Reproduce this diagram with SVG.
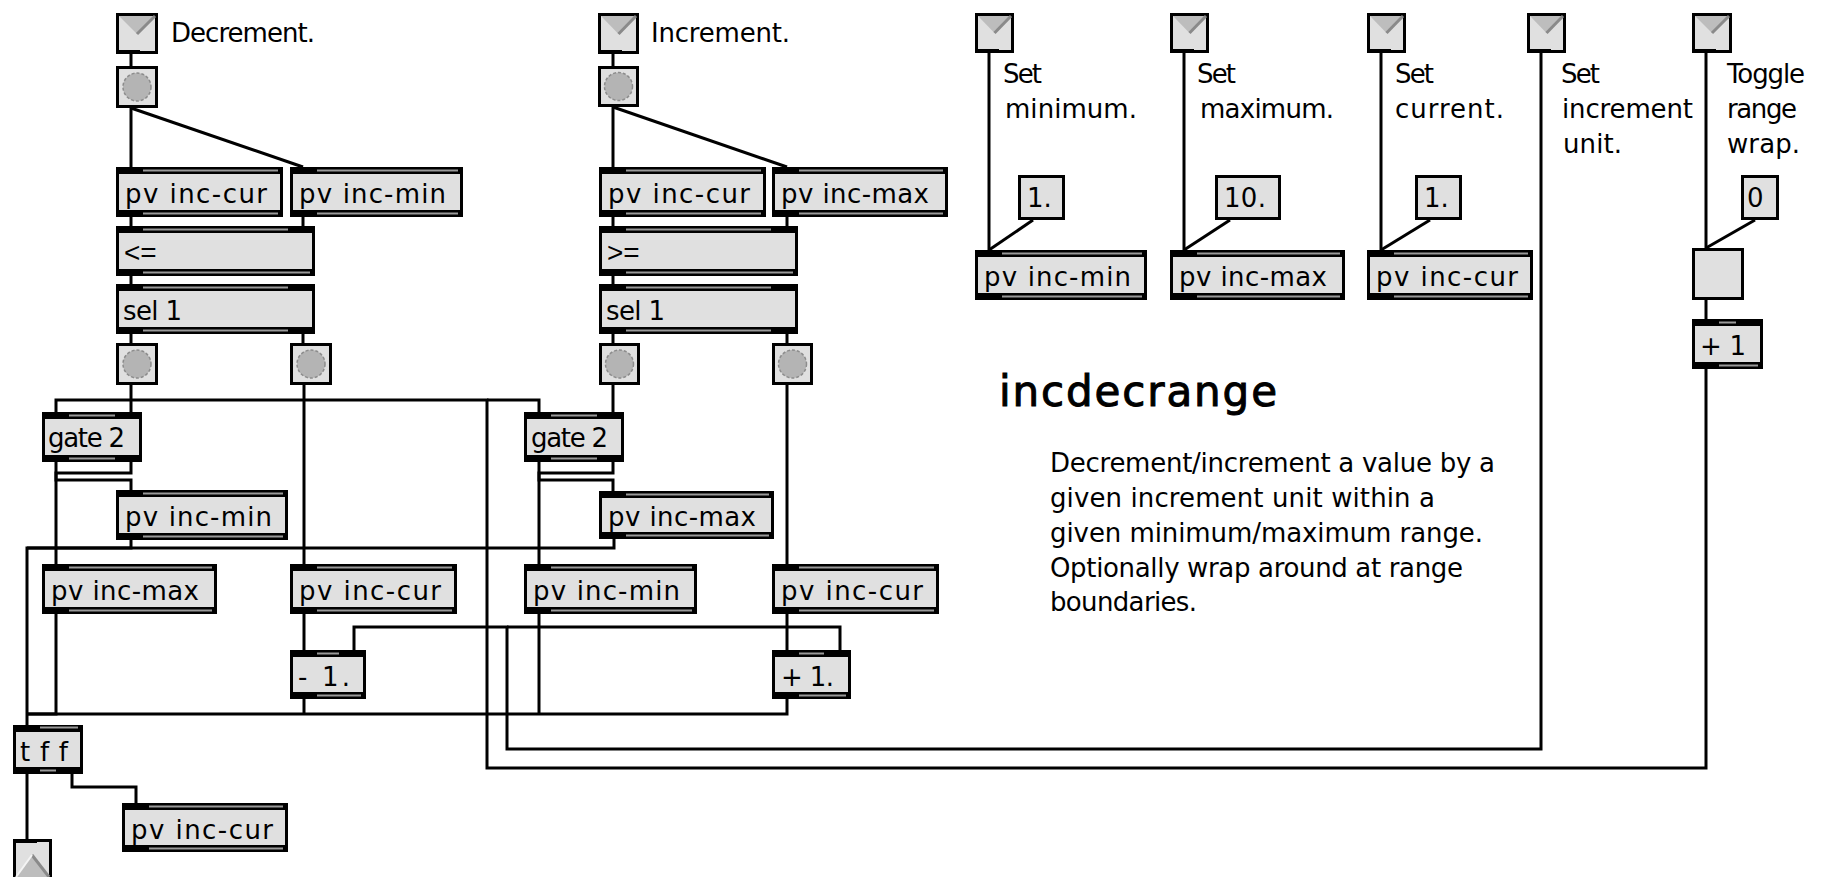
<svg xmlns="http://www.w3.org/2000/svg" width="1824" height="877" viewBox="0 0 1824 877">
<style>
.fill{fill:#e0e0e0;stroke:#000;stroke-width:3}
.bar{fill:#000}
.strip{fill:#9a9a9a}
.t{font-family:"DejaVu Sans",Verdana,sans-serif;font-size:26px;fill:#000}
.sym{font-family:"Liberation Sans",Arial,sans-serif;font-size:28px;fill:#000}
.head{font-family:"DejaVu Sans",Verdana,sans-serif;font-size:42px;fill:#000;stroke:#000;stroke-width:1}
.tri{fill:#bdbdbd}
.edge{stroke:#8a8a8a;stroke-width:3;fill:none}
.bang{fill:#b4b4b4;stroke:#8c8c8c;stroke-width:1.5;stroke-dasharray:3 2}
.cords path{fill:none;stroke:#000;stroke-width:3}
</style>
<rect width="1824" height="877" fill="#fff"/>

<g class="cords" id="connectors">
<path d="M131 54V66"/>
<path d="M131 108V167"/>
<path d="M131 108L303 167"/>
<path d="M131 217V226"/>
<path d="M303 217V226"/>
<path d="M131 276V284"/>
<path d="M131 334V343"/>
<path d="M303 334V343"/>
<path d="M131 385V412"/>
<path d="M304 385V564"/>
<path d="M56 462V480H131V490"/>
<path d="M131 462V473H56V564"/>
<path d="M131 540V548H27V725"/>
<path d="M614 539V548H27"/>
<path d="M56 614V714H27"/>
<path d="M304 614V650"/>
<path d="M304 699V714"/>
<path d="M539 614V714"/>
<path d="M787 699V714H27"/>
<path d="M27 774V839"/>
<path d="M72 774V787H136V803"/>
<path d="M613 54V66"/>
<path d="M613 107V167"/>
<path d="M613 107L787 167"/>
<path d="M613 217V226"/>
<path d="M787 217V226"/>
<path d="M613 276V284"/>
<path d="M613 334V343"/>
<path d="M787 334V343"/>
<path d="M613 385V412"/>
<path d="M787 385V564"/>
<path d="M539 462V480H613V491"/>
<path d="M613 462V473H539V564"/>
<path d="M787 614V650"/>
<path d="M1541 53V749H507V627H354V650"/>
<path d="M507 627H840V650"/>
<path d="M1706 53V248"/>
<path d="M1755 220L1706 248"/>
<path d="M1706 300V319"/>
<path d="M1706 369V768H487V400H56V412"/>
<path d="M487 400H539V412"/>
<path d="M989 53V250"/>
<path d="M1033 220L989 250"/>
<path d="M1184 53V250"/>
<path d="M1230 220L1184 250"/>
<path d="M1381 53V250"/>
<path d="M1430 220L1381 250"/>
</g>

<!-- inlets -->
<g id="inletDec"><rect class="fill" x="117.5" y="14.5" width="39" height="38"/><polygon class="tri" points="119,16 155,16 137,34"/><path class="edge" d="M137 34L155 16"/><rect class="bar" x="116" y="50" width="24" height="4"/></g>
<g id="inletInc"><rect class="fill" x="599.5" y="14.5" width="38" height="38"/><polygon class="tri" points="601,16 636,16 618.5,34"/><path class="edge" d="M618.5 34L636 16"/><rect class="bar" x="598" y="50" width="24" height="4"/></g>
<g id="inletMin"><rect class="fill" x="976.5" y="14.5" width="36" height="37"/><polygon class="tri" points="978,16 1011,16 994.5,33"/><path class="edge" d="M994.5 33L1011 16"/><rect class="bar" x="975" y="49" width="24" height="4"/></g>
<g id="inletMax"><rect class="fill" x="1171.5" y="14.5" width="36" height="37"/><polygon class="tri" points="1173,16 1206,16 1189.5,33"/><path class="edge" d="M1189.5 33L1206 16"/><rect class="bar" x="1170" y="49" width="24" height="4"/></g>
<g id="inletCur"><rect class="fill" x="1368.5" y="14.5" width="36" height="37"/><polygon class="tri" points="1370,16 1403,16 1386.5,33"/><path class="edge" d="M1386.5 33L1403 16"/><rect class="bar" x="1367" y="49" width="24" height="4"/></g>
<g id="inletUnit"><rect class="fill" x="1528.5" y="14.5" width="36" height="37"/><polygon class="tri" points="1530,16 1563,16 1546.5,33"/><path class="edge" d="M1546.5 33L1563 16"/><rect class="bar" x="1527" y="49" width="24" height="4"/></g>
<g id="inletWrap"><rect class="fill" x="1693.5" y="14.5" width="37" height="37"/><polygon class="tri" points="1695,16 1729,16 1712,33"/><path class="edge" d="M1712 33L1729 16"/><rect class="bar" x="1692" y="49" width="24" height="4"/></g>

<!-- buttons -->
<g id="btnDec"><rect class="fill" x="117.5" y="67.5" width="39" height="39"/><circle class="bang" cx="137" cy="87" r="14"/></g>
<g id="btnInc"><rect class="fill" x="599.5" y="67.5" width="38" height="38"/><circle class="bang" cx="618.5" cy="86.5" r="14"/></g>
<g id="btnA1"><rect class="fill" x="117.5" y="344.5" width="39" height="39"/><circle class="bang" cx="137" cy="364" r="14"/></g>
<g id="btnA2"><rect class="fill" x="291.5" y="344.5" width="39" height="39"/><circle class="bang" cx="311" cy="364" r="14"/></g>
<g id="btnB1"><rect class="fill" x="600.5" y="344.5" width="38" height="39"/><circle class="bang" cx="619.5" cy="364" r="14"/></g>
<g id="btnB2"><rect class="fill" x="773.5" y="344.5" width="38" height="39"/><circle class="bang" cx="792.5" cy="364" r="14"/></g>

<!-- object boxes -->
<g id="pvcur1"><rect class="fill" x="117.5" y="168.5" width="164" height="47"/><rect class="bar" x="116" y="167" width="167" height="7"/><rect class="bar" x="116" y="210" width="167" height="7"/><rect class="strip" x="143" y="169.5" width="135" height="2"/><rect class="strip" x="143" y="212.5" width="135" height="2"/><text class="t" x="125" y="203" textLength="142">pv inc-cur</text></g>
<g id="pvmin1"><rect class="fill" x="291.5" y="168.5" width="170" height="47"/><rect class="bar" x="290" y="167" width="173" height="7"/><rect class="bar" x="290" y="210" width="173" height="7"/><rect class="strip" x="317" y="169.5" width="141" height="2"/><rect class="strip" x="317" y="212.5" width="141" height="2"/><text class="t" x="299" y="203" textLength="147">pv inc-min</text></g>
<g id="le"><rect class="fill" x="117.5" y="227.5" width="196" height="47"/><rect class="bar" x="116" y="226" width="199" height="7"/><rect class="bar" x="116" y="269" width="199" height="7"/><rect class="strip" x="143" y="228.5" width="145" height="2"/><rect class="strip" x="143" y="271.5" width="167" height="2"/><text class="sym" x="124" y="262">&lt;=</text></g>
<g id="sel1a"><rect class="fill" x="117.5" y="285.5" width="196" height="47"/><rect class="bar" x="116" y="284" width="199" height="7"/><rect class="bar" x="116" y="327" width="199" height="7"/><rect class="strip" x="143" y="286.5" width="145" height="2"/><rect class="strip" x="143" y="329.5" width="145" height="2"/><text class="t" x="123" y="320" textLength="59">sel 1</text></g>

<g id="pvcur2"><rect class="fill" x="600.5" y="168.5" width="164" height="47"/><rect class="bar" x="599" y="167" width="167" height="7"/><rect class="bar" x="599" y="210" width="167" height="7"/><rect class="strip" x="626" y="169.5" width="135" height="2"/><rect class="strip" x="626" y="212.5" width="135" height="2"/><text class="t" x="608" y="203" textLength="142">pv inc-cur</text></g>
<g id="pvmax2"><rect class="fill" x="773.5" y="168.5" width="173" height="47"/><rect class="bar" x="772" y="167" width="176" height="7"/><rect class="bar" x="772" y="210" width="176" height="7"/><rect class="strip" x="799" y="169.5" width="144" height="2"/><rect class="strip" x="799" y="212.5" width="144" height="2"/><text class="t" x="781" y="203" textLength="148">pv inc-max</text></g>
<g id="ge"><rect class="fill" x="600.5" y="227.5" width="196" height="47"/><rect class="bar" x="599" y="226" width="199" height="7"/><rect class="bar" x="599" y="269" width="199" height="7"/><rect class="strip" x="626" y="228.5" width="145" height="2"/><rect class="strip" x="626" y="271.5" width="167" height="2"/><text class="sym" x="607" y="262">&gt;=</text></g>
<g id="sel1b"><rect class="fill" x="600.5" y="285.5" width="196" height="47"/><rect class="bar" x="599" y="284" width="199" height="7"/><rect class="bar" x="599" y="327" width="199" height="7"/><rect class="strip" x="626" y="286.5" width="145" height="2"/><rect class="strip" x="626" y="329.5" width="145" height="2"/><text class="t" x="606" y="320" textLength="59">sel 1</text></g>

<g id="pvminR"><rect class="fill" x="976.5" y="251.5" width="169" height="47"/><rect class="bar" x="975" y="250" width="172" height="7"/><rect class="bar" x="975" y="293" width="172" height="7"/><rect class="strip" x="1002" y="252.5" width="140" height="2"/><rect class="strip" x="1002" y="295.5" width="140" height="2"/><text class="t" x="984" y="286" textLength="147">pv inc-min</text></g>
<g id="pvmaxR"><rect class="fill" x="1171.5" y="251.5" width="172" height="47"/><rect class="bar" x="1170" y="250" width="175" height="7"/><rect class="bar" x="1170" y="293" width="175" height="7"/><rect class="strip" x="1197" y="252.5" width="143" height="2"/><rect class="strip" x="1197" y="295.5" width="143" height="2"/><text class="t" x="1179" y="286" textLength="148">pv inc-max</text></g>
<g id="pvcurR"><rect class="fill" x="1368.5" y="251.5" width="163" height="47"/><rect class="bar" x="1367" y="250" width="166" height="7"/><rect class="bar" x="1367" y="293" width="166" height="7"/><rect class="strip" x="1394" y="252.5" width="134" height="2"/><rect class="strip" x="1394" y="295.5" width="134" height="2"/><text class="t" x="1376" y="286" textLength="142">pv inc-cur</text></g>
<g id="plus1"><rect class="fill" x="1693.5" y="320.5" width="68" height="47"/><rect class="bar" x="1692" y="319" width="71" height="7"/><rect class="bar" x="1692" y="362" width="71" height="7"/><rect class="strip" x="1719" y="321.5" width="17" height="2"/><rect class="strip" x="1719" y="364.5" width="39" height="2"/><text class="t" x="1700" y="355" textLength="46">+ 1</text></g>

<g id="gate2a"><rect class="fill" x="43.5" y="413.5" width="97" height="47"/><rect class="bar" x="42" y="412" width="100" height="7"/><rect class="bar" x="42" y="455" width="100" height="7"/><rect class="strip" x="69" y="414.5" width="46" height="2"/><rect class="strip" x="69" y="457.5" width="46" height="2"/><text class="t" x="48" y="447" textLength="77">gate 2</text></g>
<g id="pvminL"><rect class="fill" x="117.5" y="491.5" width="169" height="47"/><rect class="bar" x="116" y="490" width="172" height="7"/><rect class="bar" x="116" y="533" width="172" height="7"/><rect class="strip" x="143" y="492.5" width="140" height="2"/><rect class="strip" x="143" y="535.5" width="140" height="2"/><text class="t" x="125" y="526" textLength="147">pv inc-min</text></g>
<g id="pvmaxL"><rect class="fill" x="43.5" y="565.5" width="172" height="47"/><rect class="bar" x="42" y="564" width="175" height="7"/><rect class="bar" x="42" y="607" width="175" height="7"/><rect class="strip" x="69" y="566.5" width="143" height="2"/><rect class="strip" x="69" y="609.5" width="143" height="2"/><text class="t" x="51" y="600" textLength="148">pv inc-max</text></g>
<g id="pvcurL"><rect class="fill" x="291.5" y="565.5" width="164" height="47"/><rect class="bar" x="290" y="564" width="167" height="7"/><rect class="bar" x="290" y="607" width="167" height="7"/><rect class="strip" x="317" y="566.5" width="135" height="2"/><rect class="strip" x="317" y="609.5" width="135" height="2"/><text class="t" x="299" y="600" textLength="142">pv inc-cur</text></g>
<g id="minus1"><rect class="fill" x="291.5" y="651.5" width="73" height="46"/><rect class="bar" x="290" y="650" width="76" height="7"/><rect class="bar" x="290" y="692" width="76" height="7"/><rect class="strip" x="317" y="652.5" width="22" height="2"/><rect class="strip" x="317" y="694.5" width="44" height="2"/><text class="t" x="298" y="686" textLength="52">- 1.</text></g>
<g id="tff"><rect class="fill" x="14.5" y="726.5" width="67" height="46"/><rect class="bar" x="13" y="725" width="70" height="7"/><rect class="bar" x="13" y="767" width="70" height="7"/><rect class="strip" x="40" y="726.5" width="38" height="2"/><rect class="strip" x="40" y="769.5" width="16" height="2"/><text class="t" x="20" y="761" textLength="48">t f f</text></g>
<g id="pvcurOut"><rect class="fill" x="123.5" y="804.5" width="163" height="46"/><rect class="bar" x="122" y="803" width="166" height="7"/><rect class="bar" x="122" y="845" width="166" height="7"/><rect class="strip" x="149" y="805.5" width="134" height="2"/><rect class="strip" x="149" y="847.5" width="134" height="2"/><text class="t" x="131" y="839" textLength="142">pv inc-cur</text></g>

<g id="gate2b"><rect class="fill" x="525.5" y="413.5" width="97" height="47"/><rect class="bar" x="524" y="412" width="100" height="7"/><rect class="bar" x="524" y="455" width="100" height="7"/><rect class="strip" x="551" y="414.5" width="46" height="2"/><rect class="strip" x="551" y="457.5" width="46" height="2"/><text class="t" x="531" y="447" textLength="77">gate 2</text></g>
<g id="pvmaxM"><rect class="fill" x="600.5" y="492.5" width="172" height="45"/><rect class="bar" x="599" y="491" width="175" height="7"/><rect class="bar" x="599" y="532" width="175" height="7"/><rect class="strip" x="626" y="493.5" width="143" height="2"/><rect class="strip" x="626" y="534.5" width="143" height="2"/><text class="t" x="608" y="526" textLength="148">pv inc-max</text></g>
<g id="pvminM"><rect class="fill" x="525.5" y="565.5" width="170" height="47"/><rect class="bar" x="524" y="564" width="173" height="7"/><rect class="bar" x="524" y="607" width="173" height="7"/><rect class="strip" x="551" y="566.5" width="141" height="2"/><rect class="strip" x="551" y="609.5" width="141" height="2"/><text class="t" x="533" y="600" textLength="147">pv inc-min</text></g>
<g id="pvcurM"><rect class="fill" x="773.5" y="565.5" width="164" height="47"/><rect class="bar" x="772" y="564" width="167" height="7"/><rect class="bar" x="772" y="607" width="167" height="7"/><rect class="strip" x="799" y="566.5" width="135" height="2"/><rect class="strip" x="799" y="609.5" width="135" height="2"/><text class="t" x="781" y="600" textLength="142">pv inc-cur</text></g>
<g id="plus1dot"><rect class="fill" x="773.5" y="651.5" width="76" height="46"/><rect class="bar" x="772" y="650" width="79" height="7"/><rect class="bar" x="772" y="692" width="79" height="7"/><rect class="strip" x="799" y="652.5" width="25" height="2"/><rect class="strip" x="799" y="694.5" width="47" height="2"/><text class="t" x="781" y="686" textLength="53">+ 1.</text></g>

<!-- number boxes -->
<g id="num1"><rect class="fill" x="1019.5" y="176.5" width="44" height="42"/><text class="t" x="1027" y="207">1.</text></g>
<g id="num10"><rect class="fill" x="1216.5" y="176.5" width="63" height="42"/><text class="t" x="1224" y="207" textLength="42">10.</text></g>
<g id="num1c"><rect class="fill" x="1416.5" y="176.5" width="44" height="42"/><text class="t" x="1424" y="207">1.</text></g>
<g id="num0"><rect class="fill" x="1742.5" y="176.5" width="35" height="42"/><text class="t" x="1747" y="207">0</text></g>

<!-- toggle -->
<g id="toggle"><rect class="fill" x="1693.5" y="249.5" width="49" height="49"/></g>

<!-- outlet -->
<g id="outlet"><rect class="fill" x="14.5" y="840.5" width="36" height="40"/><polygon class="tri" points="16,877 32,855 49,877"/><path class="edge" d="M32 855L49 877"/><path d="M16 877L32 855" stroke="#f4f4f4" stroke-width="2" fill="none"/><rect class="bar" x="13" y="839" width="24" height="4"/></g>

<!-- comments -->
<g id="comments">
<text class="t" x="171" y="42" textLength="144">Decrement.</text>
<text class="t" x="651" y="42" textLength="139">Increment.</text>
<text class="t" x="1003" y="83" textLength="39">Set</text>
<text class="t" x="1005" y="118" textLength="132">minimum.</text>
<text class="t" x="1197" y="83" textLength="39">Set</text>
<text class="t" x="1200" y="118" textLength="134">maximum.</text>
<text class="t" x="1395" y="83" textLength="39">Set</text>
<text class="t" x="1395" y="118" textLength="109">current.</text>
<text class="t" x="1561" y="83" textLength="39">Set</text>
<text class="t" x="1562" y="118" textLength="131">increment</text>
<text class="t" x="1563" y="153" textLength="59">unit.</text>
<text class="t" x="1727" y="83" textLength="78">Toggle</text>
<text class="t" x="1727" y="118" textLength="70">range</text>
<text class="t" x="1727" y="153" textLength="73">wrap.</text>
<text class="head" x="999" y="406" textLength="278">incdecrange</text>
<text class="t" x="1050" y="472" textLength="445">Decrement/increment a value by a</text>
<text class="t" x="1050" y="507" textLength="385">given increment unit within a</text>
<text class="t" x="1050" y="542" textLength="433">given minimum/maximum range.</text>
<text class="t" x="1050" y="577" textLength="413">Optionally wrap around at range</text>
<text class="t" x="1050" y="611" textLength="147">boundaries.</text>
</g>
</svg>
